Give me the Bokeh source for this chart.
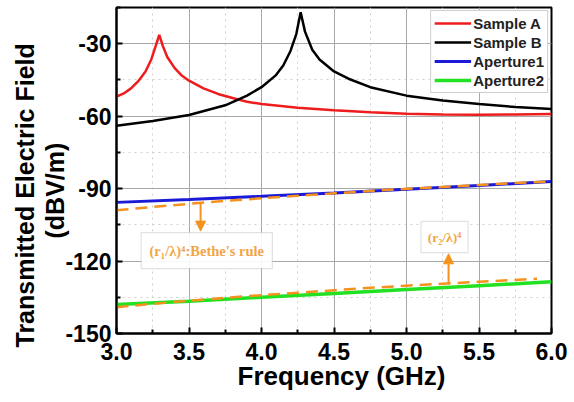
from bokeh.plotting import figure
from bokeh.models import (Range1d, Legend, LegendItem, FixedTicker, Label, BoxAnnotation,
                          Arrow, NormalHead, Title, CustomJSTickFormatter)
from bokeh.embed import file_html
from bokeh.resources import INLINE

# ---- data ----
freq_a = [3.00, 3.05, 3.10, 3.15, 3.20, 3.24, 3.27, 3.295, 3.32, 3.35, 3.40, 3.45, 3.50,
          3.60, 3.70, 3.80, 3.90, 4.00, 4.25, 4.50, 4.75, 5.00, 5.25, 5.50, 5.75, 6.00]
sample_a = [-51.9, -50.6, -48.5, -45.5, -41.5, -36.5, -31.0, -26.3, -31.0, -35.5, -40.0, -43.2, -45.3,
            -48.5, -50.8, -52.5, -54.0, -55.0, -56.5, -57.6, -58.4, -59.0, -59.3, -59.4, -59.3, -59.1]

freq_b = [3.00, 3.25, 3.50, 3.75, 3.90, 4.00, 4.10, 4.15, 4.20, 4.24, 4.27, 4.30, 4.35, 4.40,
          4.50, 4.60, 4.75, 5.00, 5.25, 5.50, 5.75, 6.00]
sample_b = [-64.0, -62.0, -59.5, -55.5, -51.5, -48.0, -43.0, -39.0, -33.0, -26.0, -17.0, -25.0, -32.5, -36.5,
            -41.5, -44.5, -48.0, -51.5, -53.5, -55.0, -56.2, -57.0]

freq_ap = [3.0, 3.5, 4.0, 4.5, 5.0, 5.5, 6.0]
aperture1 = [-95.7, -94.5, -93.2, -91.8, -90.3, -88.7, -87.1]
aperture2 = [-138.0, -136.6, -135.0, -133.4, -131.8, -130.2, -128.6]

freq_bethe1 = [3.0, 3.25, 3.5, 3.75, 4.0, 4.25, 4.5, 4.75, 5.0, 5.25, 5.5, 5.75, 6.0]
bethe1 = [-99.0, -97.6, -96.3, -95.1, -94.0, -92.95, -91.96, -91.0, -90.1, -89.3, -88.5, -87.7, -87.0]
freq_bethe2 = [3.0, 3.25, 3.5, 3.75, 4.0, 4.25, 4.5, 4.75, 5.0, 5.25, 5.5, 5.75, 5.9]
bethe2 = [-139.1, -137.7, -136.4, -135.2, -134.1, -133.1, -132.1, -131.1, -130.2, -129.4, -128.6, -127.8, -127.3]

x_ticks = [3.0, 3.5, 4.0, 4.5, 5.0, 5.5, 6.0]
x_minor = [3.25, 3.75, 4.25, 4.75, 5.25, 5.75]
y_ticks = [-150, -120, -90, -60, -30]
y_minor = [-135, -105, -75, -45, -15]

# annotation anchors (data units)
note1_text = "(r\u2081/\u03bb)\u2074:Bethe's rule"
note1_box = (3.17, 4.075, -108.2, -123.1)   # left, right, top, bottom
note1_arrow = (3.58, -95.8, -107.6)         # x, y_start, y_end
note2_text = "(r\u2082/\u03bb)\u2074"
note2_box = (5.10, 5.425, -103.6, -116.5)
note2_arrow = (5.29, -129.7, -117.0)

FONT = "Liberation Sans"
ORANGE = "#f5921e"
TXT_ORANGE = "#f2a545"

p = figure(frame_width=435, frame_height=326,
           output_backend="svg", toolbar_location=None,
           x_range=Range1d(3.0, 6.0), y_range=Range1d(-150, -15),
           min_border_left=116, min_border_right=17, min_border_top=7, min_border_bottom=60)

p.outline_line_color = "black"
p.outline_line_width = 2

# grids
for g in (p.xgrid, p.ygrid):
    g.grid_line_color = "#a8a8a8"
    g.grid_line_width = 1
    g.minor_grid_line_color = "#d0d0d0"
    g.minor_grid_line_dash = "dotted"
    g.minor_grid_line_width = 1

p.xaxis.ticker = FixedTicker(ticks=x_ticks, minor_ticks=x_minor)
p.yaxis.ticker = FixedTicker(ticks=y_ticks, minor_ticks=y_minor)
p.xaxis.formatter = CustomJSTickFormatter(code="return tick.toFixed(1);")
p.yaxis.formatter = CustomJSTickFormatter(code="return tick.toFixed(0);")

for ax in (p.xaxis, p.yaxis):
    ax.axis_line_width = 2
    ax.axis_line_color = "black"
    ax.major_tick_in = 6
    ax.major_tick_out = 0
    ax.minor_tick_in = 4
    ax.minor_tick_out = 0
    ax.major_tick_line_width = 2
    ax.minor_tick_line_width = 2
    ax.major_label_text_font = FONT
    ax.major_label_text_font_style = "bold"
    ax.major_label_text_font_size = "23px"
    ax.major_label_text_color = "black"

p.xaxis.major_label_standoff = 9
p.yaxis.major_label_standoff = 5

# x-axis title
p.add_layout(Title(text="Frequency (GHz)", align="left", offset=121, text_font=FONT,
                   text_font_style="bold", text_font_size="26px", text_color="black",
                   standoff=-8), "below")

# two-line y-axis title: inner line first, then outer line
p.add_layout(Title(text="(dBV/m)", align="left", offset=95, text_font=FONT,
                   text_font_style="bold", text_font_size="25px", text_color="black",
                   standoff=-12), "left")
p.add_layout(Title(text="Transmitted Electric Field", align="left", offset=-14, text_font=FONT,
                   text_font_style="bold", text_font_size="25px", text_color="black",
                   standoff=12), "left")

# data lines
r_a = p.line(freq_a, sample_a, line_color="#ee1c1c", line_width=2.5)
r_b = p.line(freq_b, sample_b, line_color="black", line_width=2.5)
r_1 = p.line(freq_ap, aperture1, line_color="#1a1ad8", line_width=3)
r_2 = p.line(freq_ap, aperture2, line_color="#22e022", line_width=3.5)
p.line(freq_bethe1, bethe1, line_color=ORANGE, line_width=2.5, line_dash="12 7")
p.line(freq_bethe2, bethe2, line_color=ORANGE, line_width=2.5, line_dash="12 7")

# annotation boxes
for (l, r, t, b) in (note1_box, note2_box):
    p.add_layout(BoxAnnotation(left=l, right=r, top=t, bottom=b, fill_color="white",
                               fill_alpha=0.9, line_color="#a0a0a0", line_width=1.2))

p.add_layout(Label(x=(note1_box[0] + note1_box[1]) / 2, y=(note1_box[2] + note1_box[3]) / 2,
                   text=note1_text, text_align="center", text_baseline="middle",
                   text_font="Liberation Serif", text_font_style="bold", text_font_size="14.5px",
                   text_color=TXT_ORANGE))
p.add_layout(Label(x=(note2_box[0] + note2_box[1]) / 2, y=(note2_box[2] + note2_box[3]) / 2,
                   text=note2_text, text_align="center", text_baseline="middle",
                   text_font="Liberation Serif", text_font_style="bold", text_font_size="13.5px",
                   text_color=TXT_ORANGE))

for (ax_, ys, ye) in (note1_arrow, note2_arrow):
    p.add_layout(Arrow(x_start=ax_, y_start=ys, x_end=ax_, y_end=ye, line_color=ORANGE, line_width=2,
                       end=NormalHead(size=10, fill_color=ORANGE, line_color=ORANGE)))

legend = Legend(items=[LegendItem(label="Sample A", renderers=[r_a]),
                       LegendItem(label="Sample B", renderers=[r_b]),
                       LegendItem(label="Aperture1", renderers=[r_1]),
                       LegendItem(label="Aperture2", renderers=[r_2])],
                location="top_right")
legend.label_text_font = FONT
legend.label_text_font_style = "bold"
legend.label_text_font_size = "15px"
legend.label_text_color = "#222222"
legend.glyph_width = 37
legend.glyph_height = 18
legend.label_height = 18
legend.label_standoff = 2
legend.spacing = 1
legend.padding = 3
legend.margin = 3
legend.border_line_color = "#a0a0a0"
legend.border_line_width = 1
legend.background_fill_alpha = 1
p.add_layout(legend)

open("out.html", "w").write(file_html(p, INLINE))
